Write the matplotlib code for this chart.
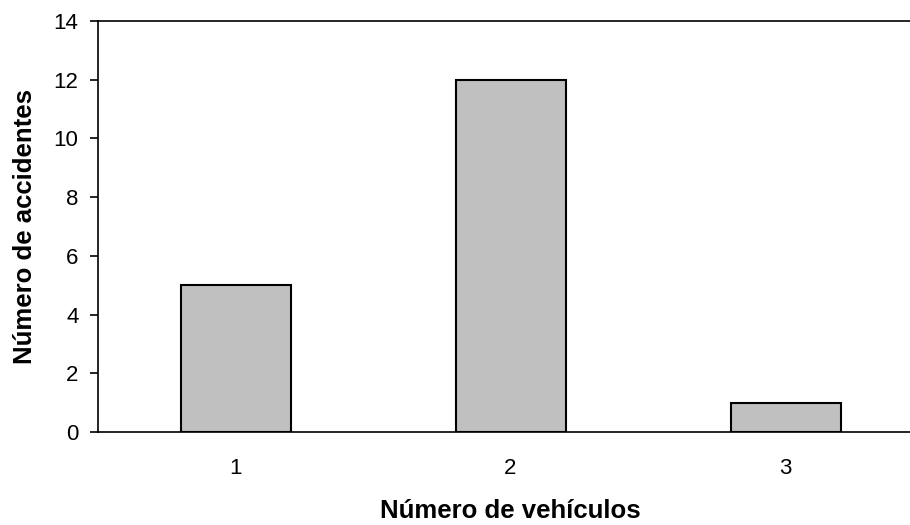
import numpy as np
import matplotlib
matplotlib.use("Agg")
import matplotlib.pyplot as plt

vehiculos = ["1", "2", "3"]
accidentes = [5, 12, 1]

plt.rcParams['font.family'] = ['Liberation Sans', 'DejaVu Sans']

fig = plt.figure(figsize=(9.1, 5.25), dpi=100)
ax = fig.add_axes([98 / 910, 93 / 525, 825 / 910, 411 / 525])

x = np.arange(1, len(vehiculos) + 1)
ax.bar(x, accidentes, width=0.4, color='#c0c0c0', edgecolor='black', linewidth=1.5)

ax.set_xlim(0.5, 3.5)
ax.set_ylim(0, 14)
ax.set_yticks(np.arange(0, 15, 2))
ax.set_xticks(x)
ax.set_xticklabels(vehiculos)

ax.spines['right'].set_visible(False)
for s in ['left', 'bottom', 'top']:
    ax.spines[s].set_linewidth(1.2)
    ax.spines[s].set_color('black')

ax.tick_params(axis='y', direction='out', length=6, width=1.2, labelsize=16, pad=8)
ax.tick_params(axis='x', length=0, labelsize=16, pad=19)

ax.set_xlabel('Número de vehículos', fontsize=18.5, fontweight='bold', labelpad=14)
ax.set_ylabel('Número de accidentes', fontsize=18.5, fontweight='bold', labelpad=12)

fig.savefig('out.png', dpi=100)
